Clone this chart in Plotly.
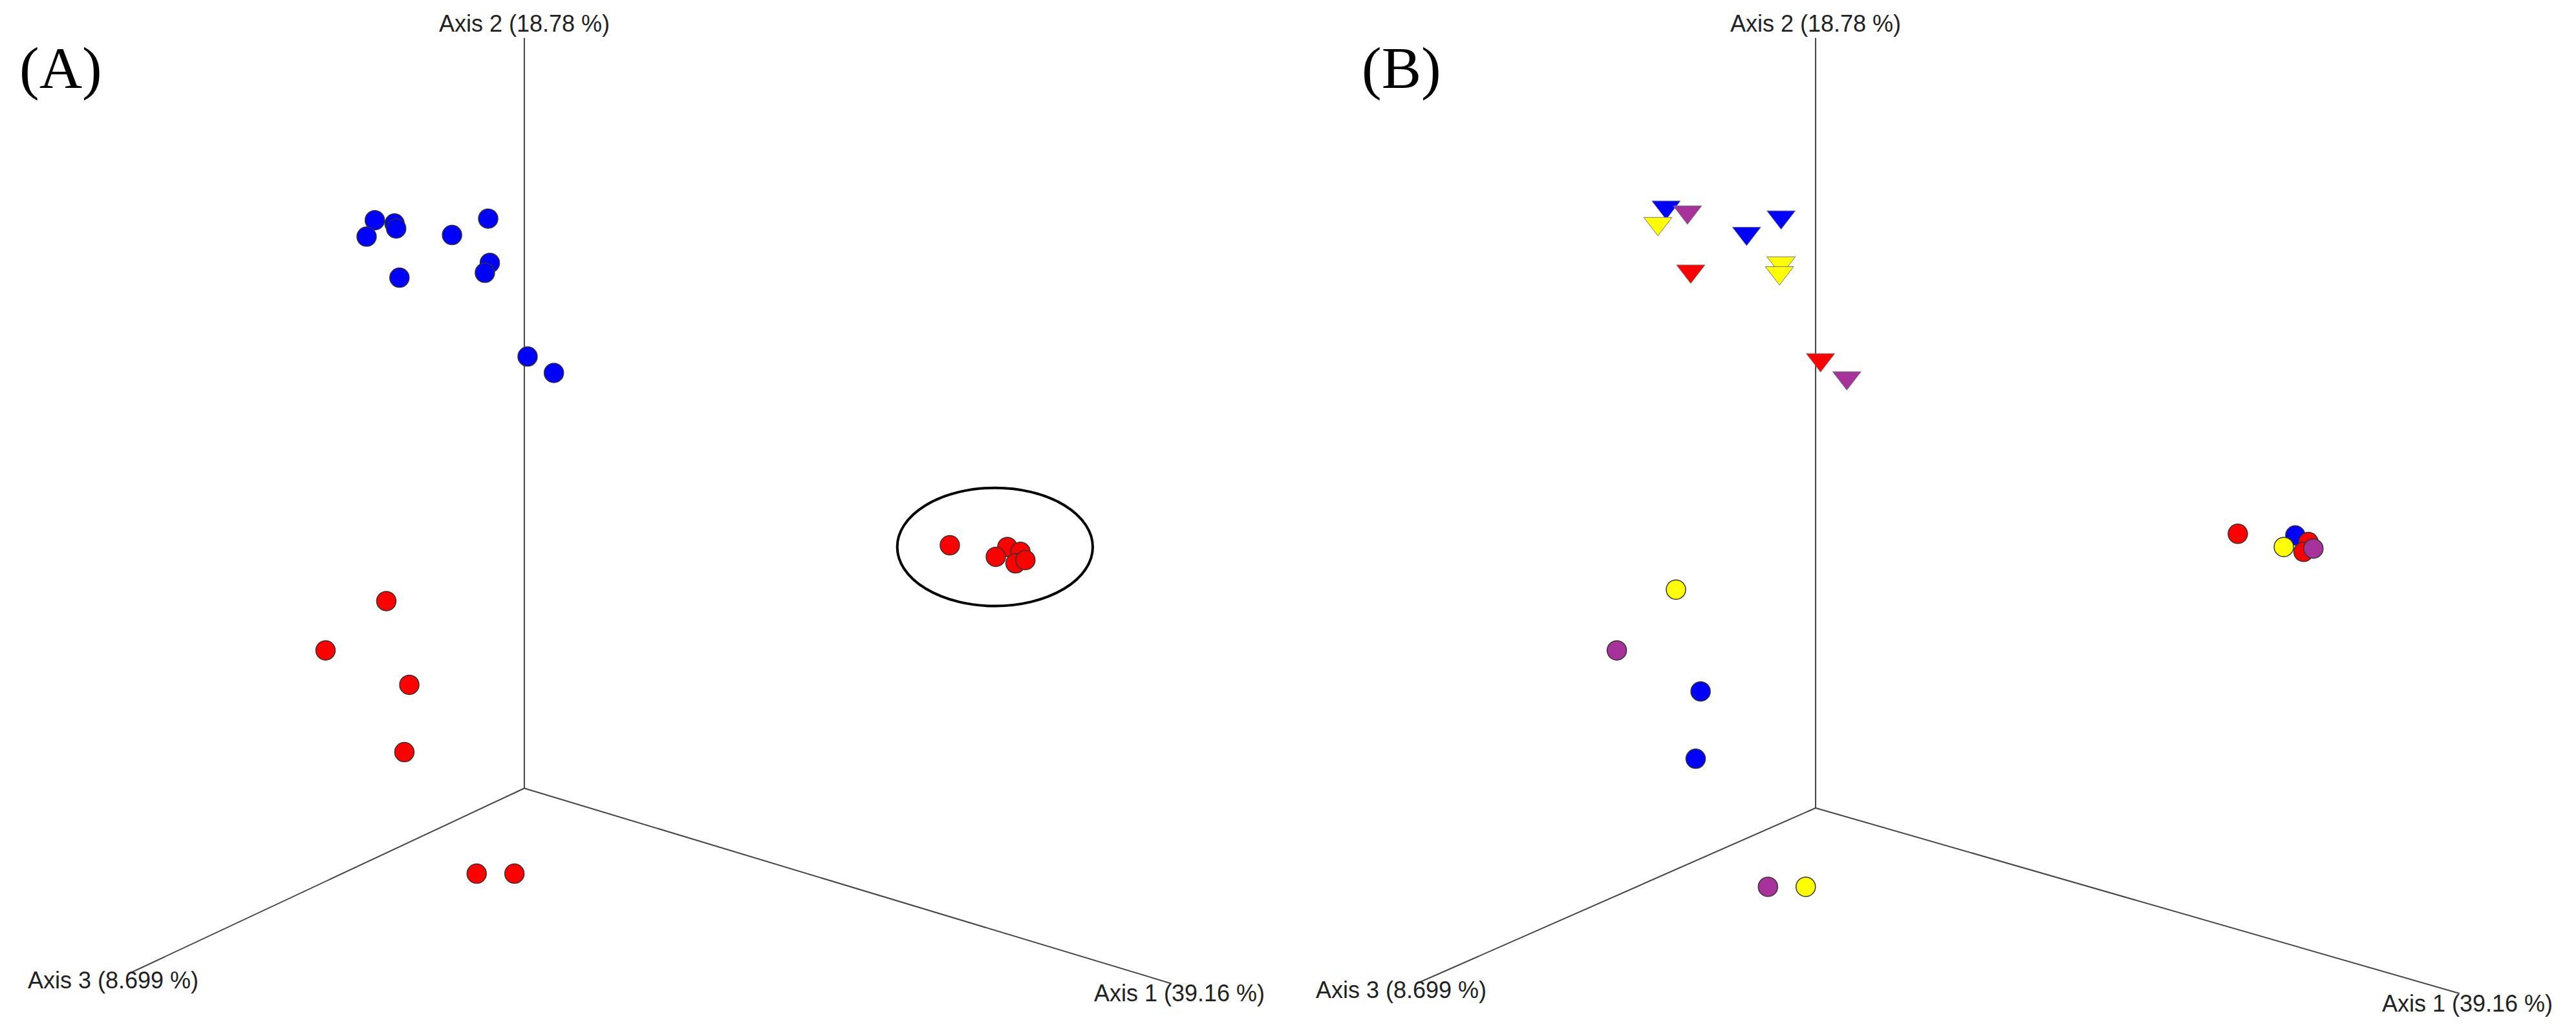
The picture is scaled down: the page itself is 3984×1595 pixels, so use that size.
import plotly.graph_objects as go

# Coordinates in projected ordination-plot space
A_blue_x = [225, 237, 238, 220, 272, 294, 295, 292, 240, 318, 334]
A_blue_y = [131, 133, 136, 141, 140, 130, 157, 163, 166, 214, 224]
A_red_x = [232, 195, 246, 243, 287, 310, 575, 610, 603, 618, 615, 621]
A_red_y = [363, 393, 414, 455, 529, 529, 329, 330, 336, 333, 340, 338]

B_tri_x = [1011, 1024, 1006, 1060, 1081, 1026, 1081, 1080, 1105, 1121]
B_tri_y = [123, 126, 133, 139, 129, 162, 157, 163, 216, 227]
B_tri_c = ["blue", "purple", "yellow", "blue", "blue", "red", "yellow", "yellow", "red", "purple"]
B_cir_x = [1359, 1394, 1387, 1402, 1399, 1405, 1017, 981, 1032, 1029, 1073, 1096]
B_cir_y = [322, 323, 330, 327, 333, 331, 356, 393, 418, 459, 537, 537]
B_cir_c = ["red", "blue", "yellow", "red", "red", "purple", "yellow", "purple", "blue", "blue", "purple", "yellow"]

axis_labels = ["Axis 1 (39.16 %)", "Axis 2 (18.78 %)", "Axis 3 (8.699 %)"]
panel_labels = ["(A)", "(B)"]

CMAP = {"red": "#ff0000", "blue": "#0000ff", "yellow": "#ffff00", "purple": "#a8329c"}

fig = go.Figure()
S = 30
line = dict(color="#333333", width=1.5)
fig.add_trace(go.Scatter(x=A_blue_x, y=A_blue_y, mode="markers",
                         marker=dict(size=S, color=CMAP["blue"], line=line)))
fig.add_trace(go.Scatter(x=A_red_x, y=A_red_y, mode="markers",
                         marker=dict(size=S, color=CMAP["red"], line=line)))
fig.add_trace(go.Scatter(x=B_tri_x, y=B_tri_y, mode="markers",
                         marker=dict(size=38, symbol="triangle-down",
                                     color=[CMAP[c] for c in B_tri_c], line=dict(color="#777", width=1))))
fig.add_trace(go.Scatter(x=B_cir_x, y=B_cir_y, mode="markers",
                         marker=dict(size=S, color=[CMAP[c] for c in B_cir_c], line=line)))

panels = [dict(o=(316, 477), top=(316, 20), a3=(75, 590), a1=(710, 596), lab=(8, 38)),
          dict(o=(1102, 489), top=(1102, 20), a3=(859, 596), a1=(1494, 602), lab=(825, 38))]
lc = dict(color="#444444", width=2)
for i, p in enumerate(panels):
    for end in (p["top"], p["a3"], p["a1"]):
        fig.add_shape(type="line", x0=p["o"][0], y0=p["o"][1], x1=end[0], y1=end[1], line=lc, layer="below")
    fnt = dict(family="Liberation Sans, Arial", size=36, color="#222")
    fig.add_annotation(x=p["top"][0], y=p["top"][1], text=axis_labels[1], showarrow=False,
                       xanchor="center", yanchor="bottom", font=fnt)
    fig.add_annotation(x=p["a3"][0] - 62, y=p["a3"][1] + 4, text=axis_labels[2], showarrow=False,
                       xanchor="left", yanchor="middle", font=fnt)
    fig.add_annotation(x=p["a1"][0] - 48, y=p["a1"][1] + 6, text=axis_labels[0], showarrow=False,
                       xanchor="left", yanchor="middle", font=fnt)
    fig.add_annotation(x=p["lab"][0], y=p["lab"][1], text=panel_labels[i], showarrow=False,
                       xanchor="left", yanchor="middle",
                       font=dict(family="Liberation Serif, Times New Roman", size=92, color="black"))

fig.add_shape(type="circle", x0=543, x1=662, y0=294, y1=366, line=dict(color="black", width=4))

fig.update_layout(width=3984, height=1595, margin=dict(l=0, r=0, t=0, b=0),
                  paper_bgcolor="white", plot_bgcolor="white", showlegend=False,
                  xaxis=dict(range=[0, 1568], visible=False),
                  yaxis=dict(range=[628, 0], visible=False))
fig.write_html("out.html")
